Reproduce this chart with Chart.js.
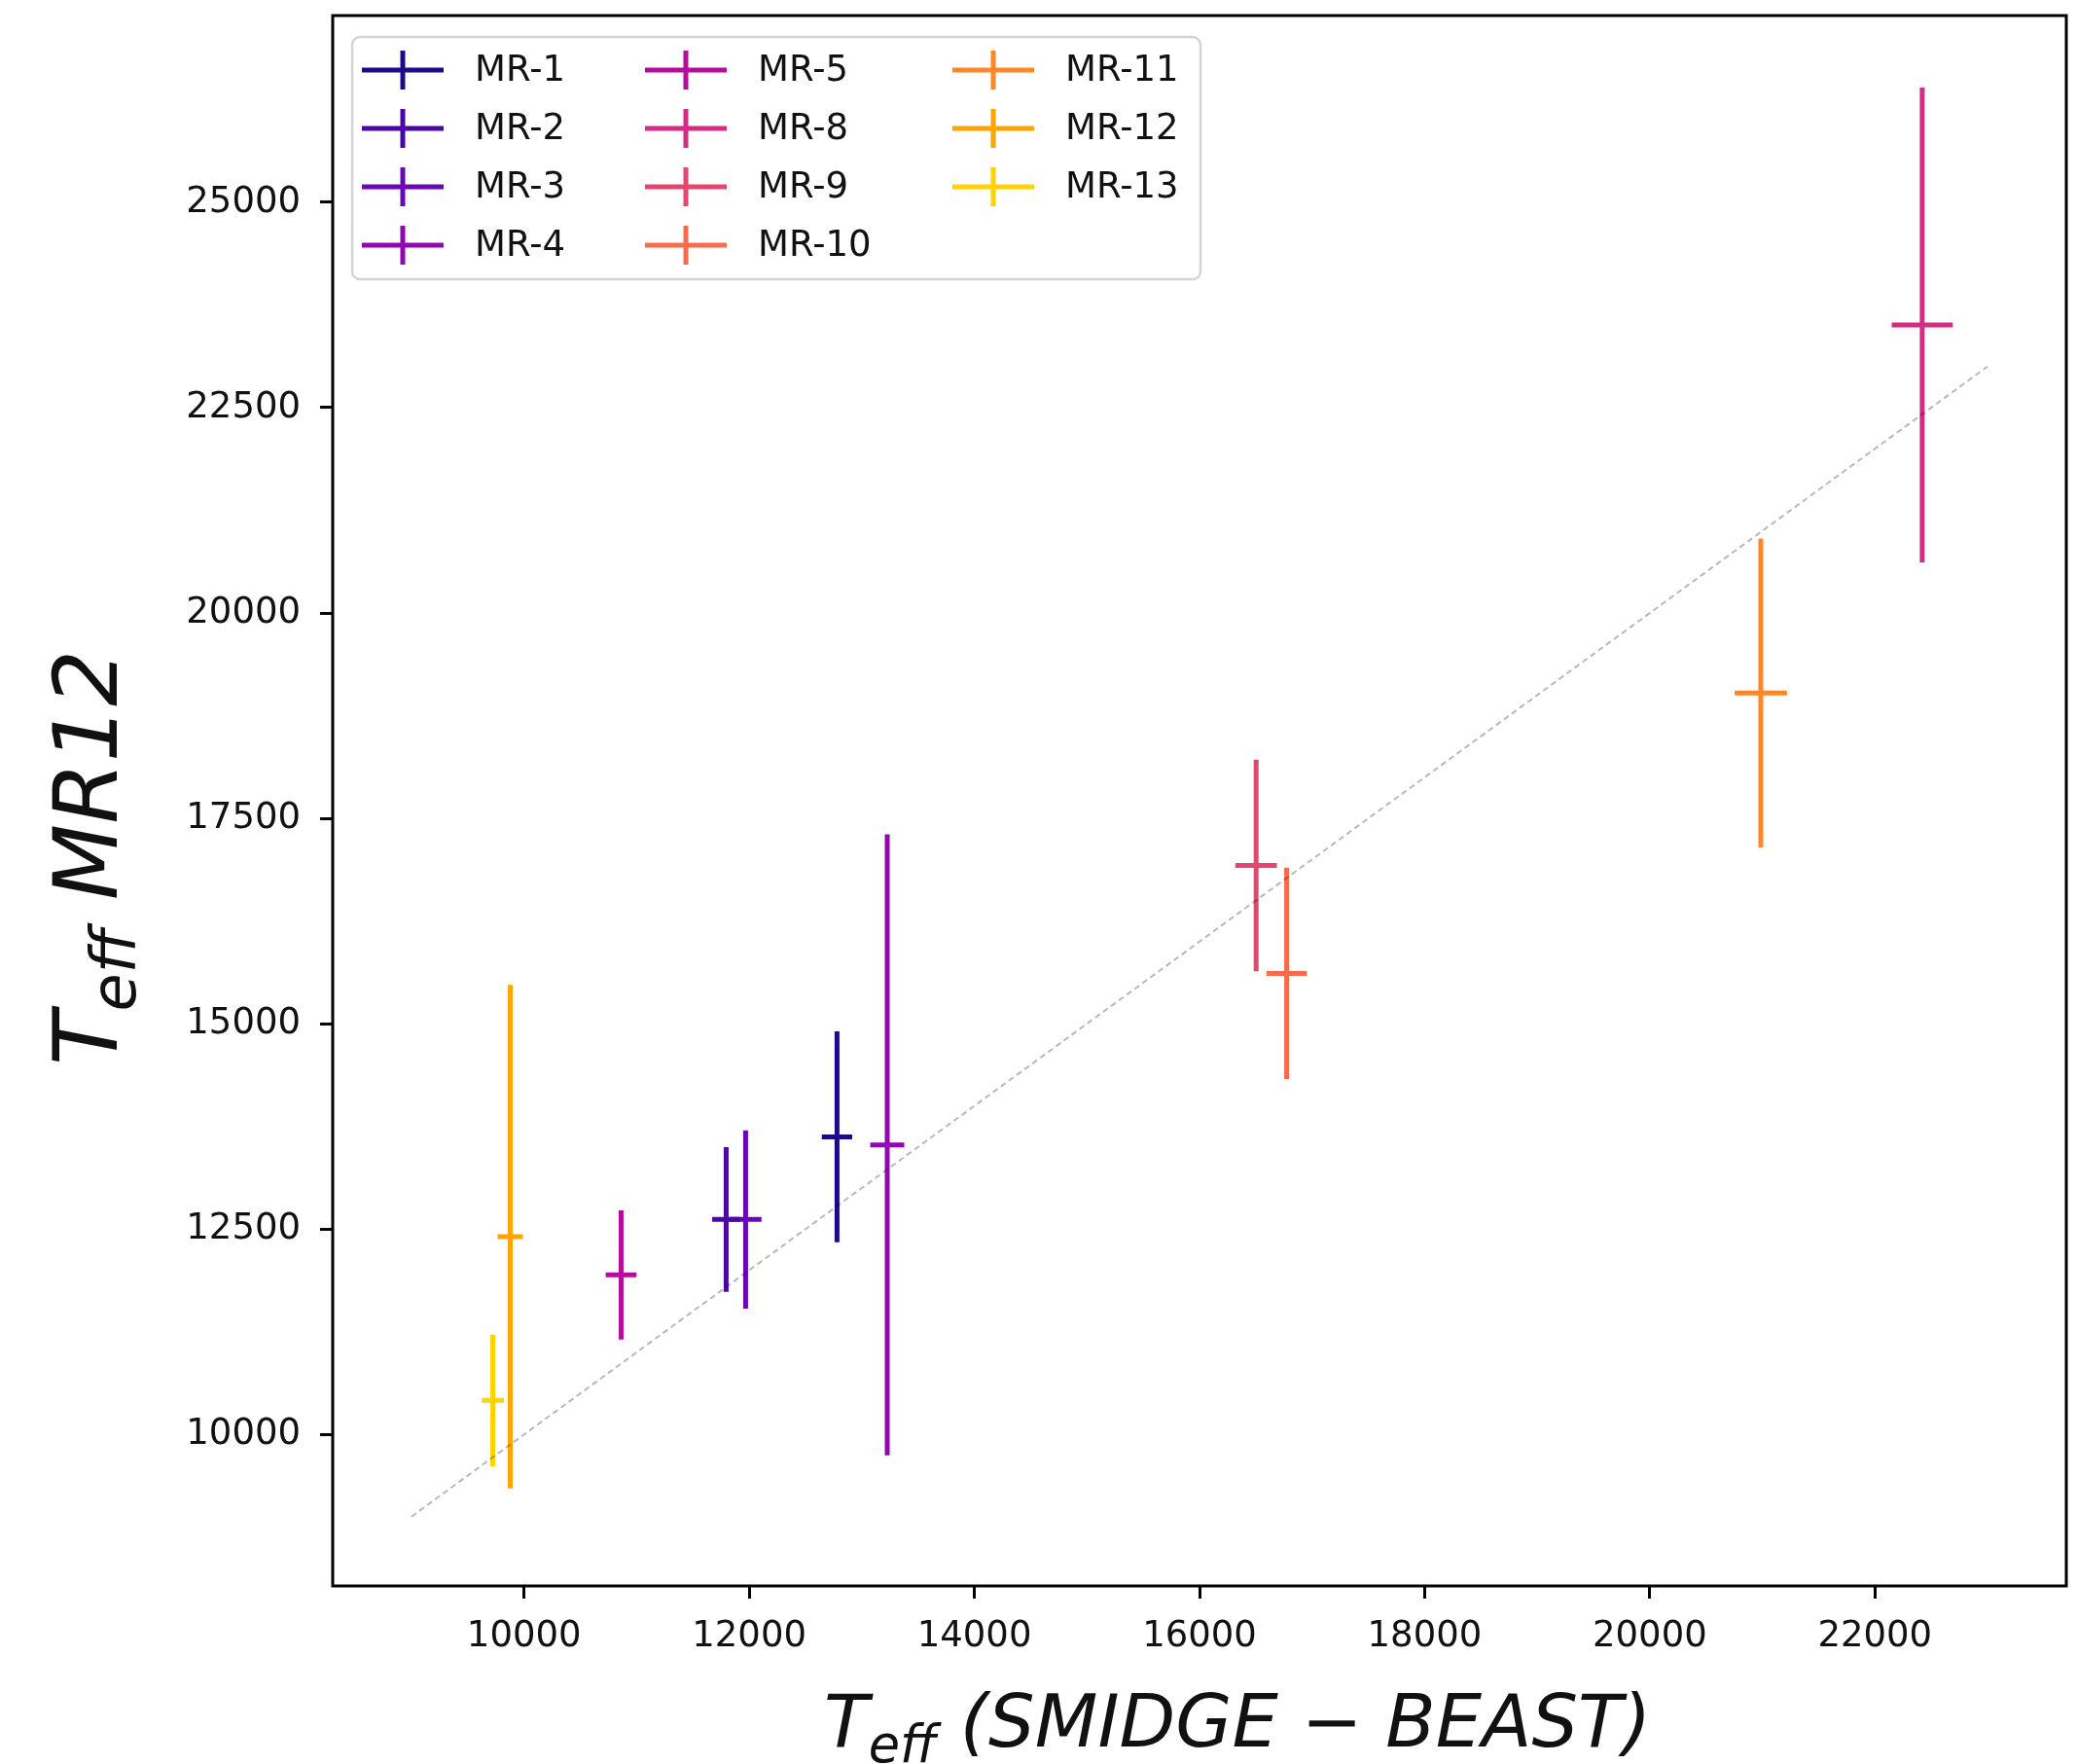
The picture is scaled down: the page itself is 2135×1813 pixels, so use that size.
<!DOCTYPE html>
<html>
<head>
<meta charset="utf-8">
<script src="https://cdn.jsdelivr.net/npm/chart.js@4.4.1/dist/chart.umd.min.js"></script>
<style>
  html, body { margin: 0; padding: 0; background: #fff; }
</style>
</head>
<body>
<canvas id="teffChart" width="2135" height="1813"></canvas>
<script>
// stars, in legend order
const names = ['MR-1', 'MR-2', 'MR-3', 'MR-4', 'MR-5', 'MR-8', 'MR-9', 'MR-10', 'MR-11', 'MR-12', 'MR-13'];
const colors = ['#1c0a8a', '#4b06a6', '#6a08b4', '#9108b0', '#b50c9c', '#d42c86', '#e4466e', '#fa6a4c', '#ff872a', '#ffa400', '#ffd300'];

// Teff from SMIDGE-BEAST (x) and from MR12 (y), with 1-sigma errors
const teffBeast    = [12780, 11795, 11968, 13226, 10862, 22420, 16503, 16774, 20986, 9877, 9722];
const teffBeastErr = [135, 124, 141, 151, 137, 271, 184, 179, 232, 112, 98];
const teffMR12     = [13623, 12617, 12617, 13525, 11942, 23507, 16927, 15613, 19027, 12407, 10414];
const teffMR12Err  = [1283, 882, 1085, 3780, 785, 2890, 1287, 1287, 1880, 3065, 800];

// one-to-one reference line
const oneToOne = [9000, 23000];

const xTicks = [10000, 12000, 14000, 16000, 18000, 20000, 22000];
const yTicks = [10000, 12500, 15000, 17500, 20000, 22500, 25000];

const FONT = 'DejaVu Sans';

// each star becomes a vertical (y error) and horizontal (x error) segment,
// split by a gap point so the line doesn't join them
const starSets = names.map((name, i) => {
  const x = teffBeast[i], y = teffMR12[i];
  return {
    label: name,
    data: [
      { x: x, y: y - teffMR12Err[i] },
      { x: x, y: y + teffMR12Err[i] },
      { x: x, y: null },
      { x: x - teffBeastErr[i], y: y },
      { x: x + teffBeastErr[i], y: y }
    ],
    showLine: true,
    spanGaps: false,
    borderColor: colors[i],
    backgroundColor: colors[i],
    borderWidth: 5,
    borderCapStyle: 'butt',
    pointRadius: 0,
    order: 1
  };
});

const lineSet = {
  label: '',
  data: oneToOne.map(v => ({ x: v, y: v })),
  showLine: true,
  borderColor: 'rgba(0,0,0,0.28)',
  borderWidth: 2,
  borderDash: [6, 4],
  pointRadius: 0,
  order: 0
};

// keep the plot area fixed: no extra room for overhanging tick labels
function noOverhang(s) {
  s.paddingTop = 0;
  s.paddingBottom = 0;
  s.paddingLeft = 0;
  s.paddingRight = 0;
}

// box around the plot area
const frame = {
  id: 'frame',
  afterDatasetsDraw(chart) {
    const { ctx, chartArea: a } = chart;
    ctx.save();
    ctx.strokeStyle = '#000';
    ctx.lineWidth = 3;
    ctx.strokeRect(a.left, a.top, a.right - a.left, a.bottom - a.top);
    ctx.restore();
  }
};

// three-column legend inside the upper left corner
const legendBox = {
  id: 'legendBox',
  afterDraw(chart) {
    const { ctx, chartArea: a } = chart;
    const left = a.left + 20, top = a.top + 22;
    ctx.save();
    ctx.beginPath();
    ctx.roundRect(left, top, 872, 249, 8);
    ctx.fillStyle = 'rgba(255,255,255,0.8)';
    ctx.fill();
    ctx.strokeStyle = '#d4d4d4';
    ctx.lineWidth = 2.5;
    ctx.stroke();

    const colX = [10, 301, 617];
    const sets = chart.data.datasets.filter(d => d.label);
    sets.forEach((ds, i) => {
      const x = left + colX[Math.floor(i / 4)];
      const y = top + 34 + (i % 4) * 60;
      ctx.strokeStyle = ds.borderColor;
      ctx.lineWidth = 5;
      ctx.beginPath();
      ctx.moveTo(x, y); ctx.lineTo(x + 84, y);
      ctx.moveTo(x + 42, y - 20); ctx.lineTo(x + 42, y + 20);
      ctx.stroke();
      ctx.fillStyle = '#111';
      ctx.font = `37px "${FONT}"`;
      ctx.textBaseline = 'middle';
      ctx.fillText(ds.label, x + 116, y + 1);
    });
    ctx.restore();
  }
};

// axis titles with a subscripted "eff"
function drawTitle(ctx, parts, size) {
  let x = 0;
  parts.forEach(([text, sub]) => {
    const s = sub ? size * 0.7 : size;
    ctx.font = `italic ${s}px "${FONT}"`;
    ctx.fillText(text, x, sub ? size * 0.21 : 0);
    x += ctx.measureText(text).width;
  });
}

const axisTitles = {
  id: 'axisTitles',
  afterDraw(chart) {
    const ctx = chart.ctx;
    ctx.save();
    ctx.fillStyle = '#111';
    ctx.textBaseline = 'alphabetic';
    ctx.translate(847, 1795);
    drawTitle(ctx, [['T'], ['eff', true], [' (SMIDGE \u2212 BEAST)']], 75);
    ctx.restore();

    ctx.save();
    ctx.fillStyle = '#111';
    ctx.textBaseline = 'alphabetic';
    ctx.translate(120, 1095);
    ctx.rotate(-Math.PI / 2);
    drawTitle(ctx, [['T'], ['eff', true], [' MR12']], 91);
    ctx.restore();
  }
};

new Chart(document.getElementById('teffChart'), {
  type: 'scatter',
  data: { datasets: [...starSets, lineSet] },
  options: {
    responsive: false,
    devicePixelRatio: 1,
    animation: false,
    layout: { padding: { left: 0, right: 11, top: 16, bottom: 0 } },
    plugins: { legend: { display: false }, tooltip: { enabled: false } },
    scales: {
      x: {
        type: 'linear',
        min: 8300,
        max: 23700,
        afterBuildTicks: s => { s.ticks = xTicks.map(v => ({ value: v })); },
        afterFit: s => { s.height = 183; noOverhang(s); },
        border: { display: false },
        grid: { drawOnChartArea: false, drawTicks: true, tickLength: 13, tickWidth: 3, tickColor: '#000' },
        ticks: {
          color: '#111',
          font: { family: FONT, size: 37 },
          padding: 17,
          maxRotation: 0,
          callback: v => String(v)
        }
      },
      y: {
        type: 'linear',
        min: 8156,
        max: 27273,
        afterBuildTicks: s => { s.ticks = yTicks.map(v => ({ value: v })); },
        afterFit: s => { s.width = 342; noOverhang(s); },
        border: { display: false },
        grid: { drawOnChartArea: false, drawTicks: true, tickLength: 13, tickWidth: 3, tickColor: '#000' },
        ticks: {
          color: '#111',
          font: { family: FONT, size: 37 },
          padding: 20,
          callback: v => String(v)
        }
      }
    }
  },
  plugins: [frame, legendBox, axisTitles]
});
</script>
</body>
</html>
